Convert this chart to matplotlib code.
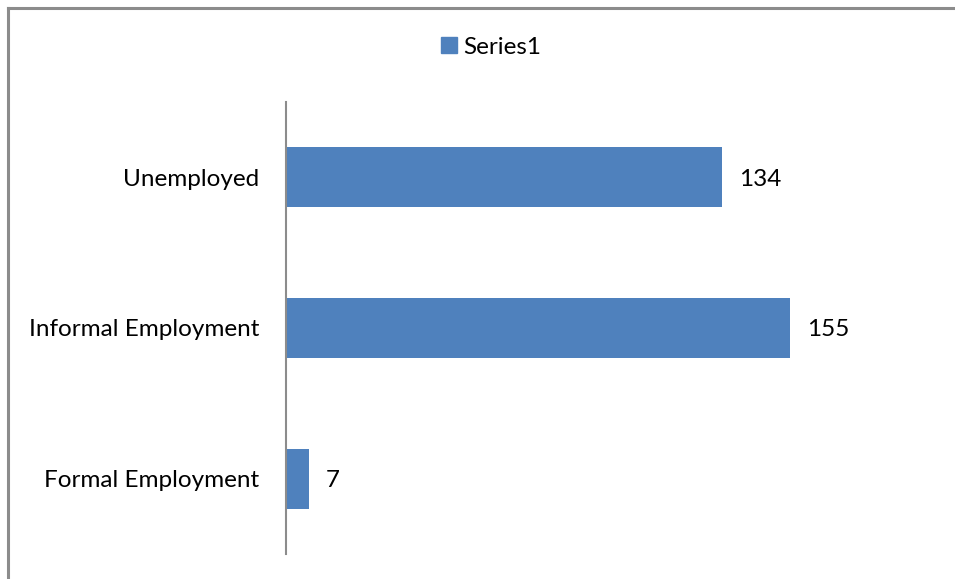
import matplotlib.pyplot as plt
import matplotlib.transforms as mtransforms
from matplotlib.patches import Patch
from matplotlib.lines import Line2D

plt.rcParams['font.family'] = ['Lato', 'DejaVu Sans']

# categories listed bottom to top, as barh draws them
categories = ['Formal Employment', 'Informal Employment', 'Unemployed']
values = [7, 155, 134]
series_name = 'Series1'
bar_color = '#4F81BD'
fs = 17.5

W, H = 955, 579
fig = plt.figure(figsize=(W / 100, H / 100), dpi=100)

# chart area frame (top and left edges show)
fig.add_artist(Line2D([7.5 / W, 7.5 / W], [0, 1 - 8 / H], color='#8c8c8c', lw=2.2))
fig.add_artist(Line2D([7.5 / W, 1], [1 - 8 / H, 1 - 8 / H], color='#8c8c8c', lw=2.2))

ax = fig.add_axes([286 / W, 1 - 554 / H, (871 - 286) / W, (554 - 102) / H])
pos = range(len(categories))
bars = ax.barh(pos, values, height=0.4, color=bar_color)
ax.set_xlim(0, 180)
ax.set_ylim(-0.5, len(categories) - 0.5)

# value labels, nudged down a little so they sit level with the bar middle
nudge = mtransforms.ScaledTranslation(0, -2 / 100, fig.dpi_scale_trans)
for b, v in zip(bars, values):
    ax.text(v + 5.3, b.get_y() + b.get_height() / 2, str(v),
            va='center', ha='left', fontsize=fs, color='black',
            transform=ax.transData + nudge)

ax.set_yticks(list(pos))
ax.set_yticklabels(categories, fontsize=fs)
ax.tick_params(axis='y', length=0, pad=19.5)
ax.set_xticks([])
for s in ['top', 'right', 'bottom']:
    ax.spines[s].set_visible(False)
ax.spines['left'].set_color('#8c8c8c')
ax.spines['left'].set_linewidth(1.5)

fig.legend(handles=[Patch(color=bar_color, label=series_name)],
           loc='center', bbox_to_anchor=(491 / W, 1 - 47 / H),
           frameon=False, fontsize=fs, handlelength=0.65, handleheight=0.65,
           handletextpad=0.25)

fig.savefig('out.png', dpi=100)
